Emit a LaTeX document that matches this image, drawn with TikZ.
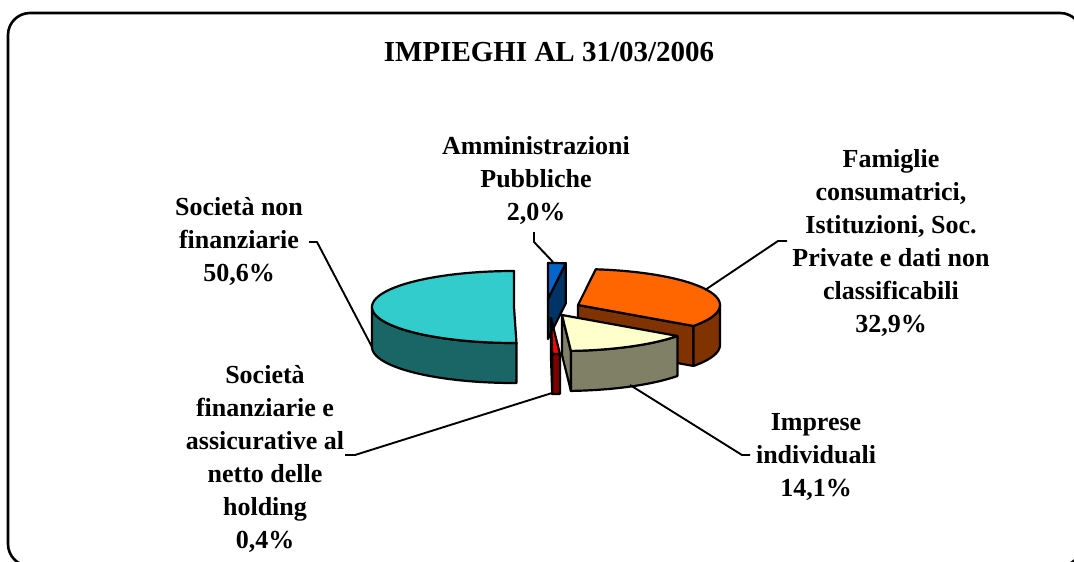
\documentclass[tikz,border=0pt]{standalone}
\usepackage{fontspec}
\setmainfont{Liberation Serif}
\definecolor{cyantop}{HTML}{33CCCC}
\definecolor{cyanside}{HTML}{1A6666}
\definecolor{orgtop}{HTML}{FF6600}
\definecolor{orgside}{HTML}{803300}
\definecolor{crmtop}{HTML}{FFFFCC}
\definecolor{crmside}{HTML}{808066}
\definecolor{blutop}{HTML}{0066CC}
\definecolor{bluside}{HTML}{003366}
\definecolor{redtop}{HTML}{FF0000}
\definecolor{redside}{HTML}{800000}
\begin{document}
\begin{tikzpicture}[x=1pt,y=-1pt,line join=round,
  face/.style={draw=black,line width=2.2pt},
  lead/.style={draw=black,line width=1.9pt},
  lbl/.style={align=center,inner sep=0pt,font=\fontsize{26}{33}\selectfont\bfseries},
  ttl/.style={inner sep=0pt,font=\fontsize{29}{35}\selectfont\bfseries}]
\useasboundingbox (0,0) rectangle (1074,562);
\begin{scope}
\clip (0,0) rectangle (1074,562);
\draw[line width=2.6pt,rounded corners=22pt] (8,13) rectangle (1082,566);
\end{scope}

% title
\node[ttl] (title) at (549,52) {IMPIEGHI AL 31/03/2006};

% blue slice (Amministrazioni Pubbliche), centre (548,299)
\draw[face,fill=bluside] (548,299) -- ({548+142*cos(82.8)},{299-36*sin(82.8)}) -- ({548+142*cos(82.8)},{339-36*sin(82.8)}) -- (548,339) -- cycle;
\draw[face,fill=blutop] (548,299) -- plot[domain=82.8:90,samples=5] ({548+142*cos(\x)},{299-36*sin(\x)}) -- cycle;

% orange slice (Famiglie ...), centre (578,305)
\draw[face,fill=orgside] (578,305) -- ({578+142*cos(-35.6)},{305-36*sin(-35.6)}) -- ({578+142*cos(-35.6)},{345-36*sin(-35.6)}) -- (578,345) -- cycle;
\draw[face,fill=orgside] plot[domain=-35.6:0,samples=20] ({578+142*cos(\x)},{305-36*sin(\x)}) -- plot[domain=0:-35.6,samples=20] ({578+142*cos(\x)},{345-36*sin(\x)}) -- cycle;
\draw[face,fill=orgtop] (578,305) -- plot[domain=-35.6:82.8,samples=60] ({578+142*cos(\x)},{305-36*sin(\x)}) -- cycle;

% cyan slice (Societa non finanziarie), centre (514,307)
\draw[face,fill=cyanside] plot[domain=180:271,samples=50] ({514+142*cos(\x)},{307-36*sin(\x)}) -- plot[domain=271:180,samples=50] ({514+142*cos(\x)},{347-36*sin(\x)}) -- cycle;
\draw[face,fill=cyantop] (514,307) -- plot[domain=90:271,samples=90] ({514+142*cos(\x)},{307-36*sin(\x)}) -- cycle;

% red slice (Societa finanziarie ...), centre (551,318)
\draw[face,fill=redside] (551,318) -- ({551+142*cos(-89.5)},{318-36*sin(-89.5)}) -- ({551+142*cos(-89.5)},{358-36*sin(-89.5)}) -- (551,358) -- cycle;
\draw[face,fill=redside] plot[domain=-89.5:-86.4,samples=3] ({551+142*cos(\x)},{318-36*sin(\x)}) -- plot[domain=-86.4:-89.5,samples=3] ({551+142*cos(\x)},{358-36*sin(\x)}) -- cycle;
\draw[face,fill=redtop] (551,318) -- plot[domain=-89.5:-86.4,samples=3] ({551+142*cos(\x)},{318-36*sin(\x)}) -- cycle;

% cream slice (Imprese individuali), centre (562,315)
\draw[face,fill=crmside] (562,315) -- ({562+142*cos(-86.4)},{315-36*sin(-86.4)}) -- ({562+142*cos(-86.4)},{355-36*sin(-86.4)}) -- (562,355) -- cycle;
\draw[face,fill=crmside] plot[domain=-86.4:-35.6,samples=30] ({562+142*cos(\x)},{315-36*sin(\x)}) -- plot[domain=-35.6:-86.4,samples=30] ({562+142*cos(\x)},{355-36*sin(\x)}) -- cycle;
\draw[face,fill=crmtop] (562,315) -- plot[domain=-86.4:-35.6,samples=30] ({562+142*cos(\x)},{315-36*sin(\x)}) -- cycle;

% labels
\node[lbl] (amm) at (536,180.5) {Amministrazioni\\Pubbliche\\2,0\%};
\node[lbl] (fam) at (891,242.5) {Famiglie\\consumatrici,\\Istituzioni, Soc.\\Private e dati non\\classificabili\\32,9\%};
\node[lbl] (snf) at (239,241) {Società non\\finanziarie\\50,6\%};
\node[lbl] (imp) at (816,456.5) {Imprese\\individuali\\14,1\%};
\node[lbl] (sfa) at (265,458.5) {Società\\finanziarie e\\assicurative al\\netto delle\\holding\\0,4\%};

% leader lines
\coordinate (a1) at (534,232); \coordinate (a2) at (534,242); \coordinate (a3) at (553,262);
\draw[lead] (a1) -- (a2) -- (a3);
\coordinate (f1) at (787,241); \coordinate (f2) at (778,241); \coordinate (f3) at (705,290);
\draw[lead] (f1) -- (f2) -- (f3);
\coordinate (s1) at (309,242); \coordinate (s2) at (317,242); \coordinate (s3) at (372,347);
\draw[lead] (s1) -- (s2) -- (s3);
\coordinate (i1) at (630,385); \coordinate (i2) at (742,455); \coordinate (i3) at (750,455);
\draw[lead] (i1) -- (i2) -- (i3);
\coordinate (h1) at (345,455); \coordinate (h2) at (355,455); \coordinate (h3) at (552,393);
\draw[lead] (h1) -- (h2) -- (h3);
\end{tikzpicture}
\end{document}
